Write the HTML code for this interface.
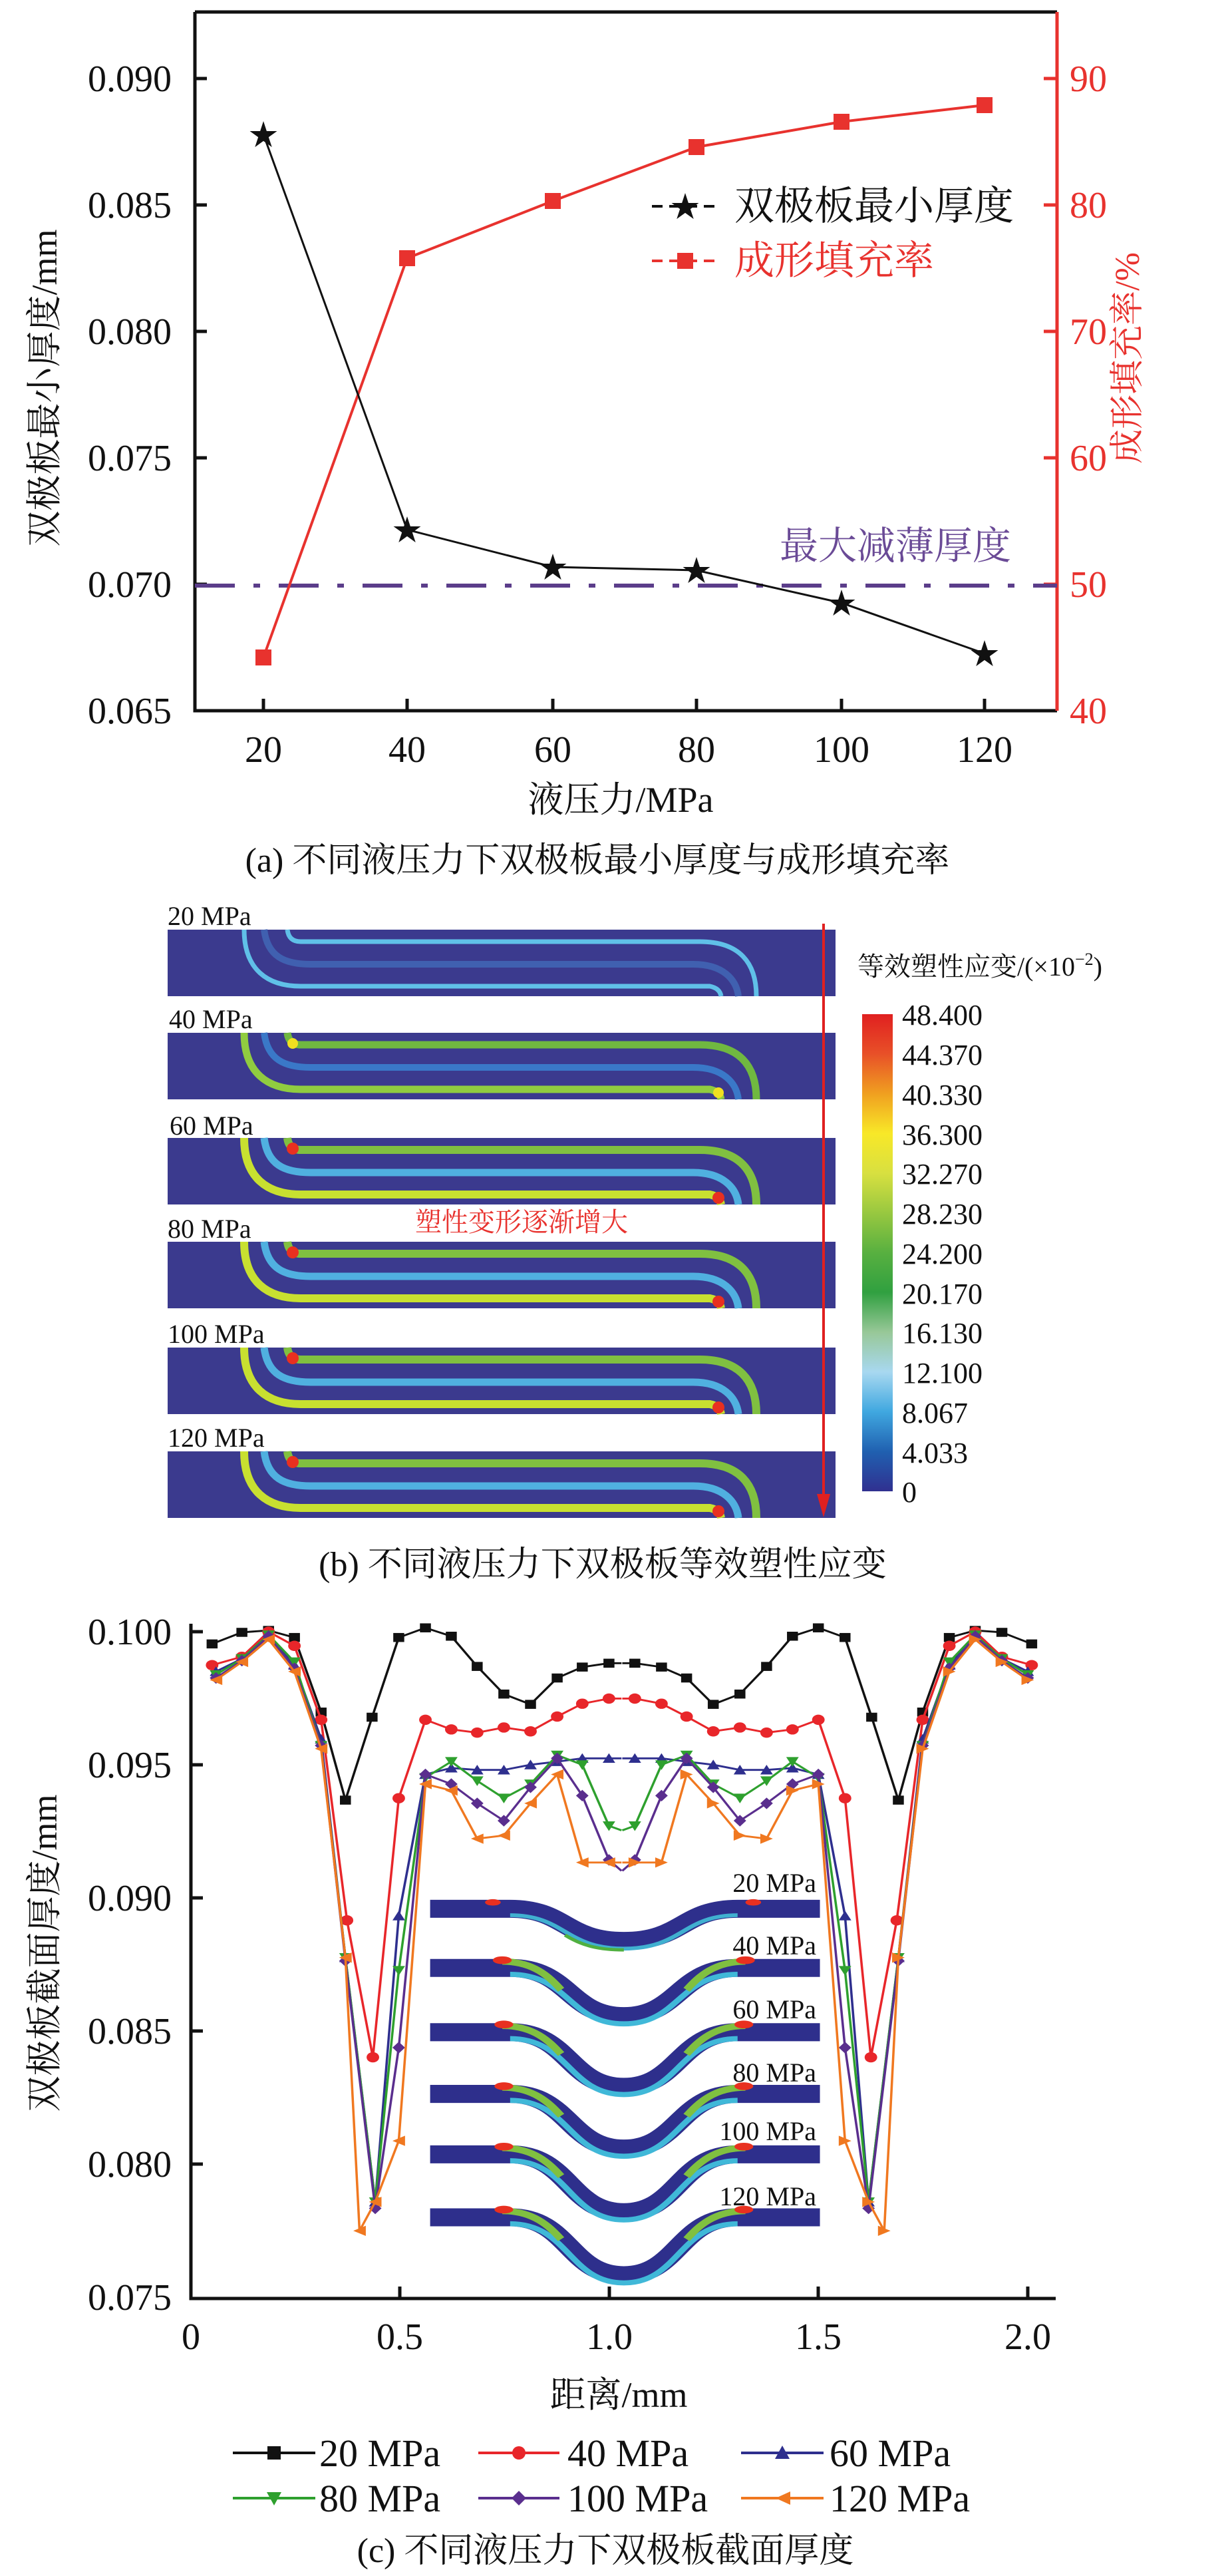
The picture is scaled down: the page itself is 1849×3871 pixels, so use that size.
<!DOCTYPE html>
<html><head><meta charset="utf-8"><style>
html,body{margin:0;padding:0;background:#fff}
svg{display:block}
text{font-family:"Liberation Serif","Noto Serif CJK SC",serif}
</style></head><body>
<svg width="1849" height="3871" viewBox="0 0 1849 3871" xmlns="http://www.w3.org/2000/svg">
<defs>
<marker id="mSq" markerUnits="userSpaceOnUse" markerWidth="20" markerHeight="20" refX="10" refY="10"><rect x="3" y="3" width="14" height="14" fill="#111"/></marker>
<marker id="mCi" markerUnits="userSpaceOnUse" markerWidth="20" markerHeight="20" refX="10" refY="10"><circle cx="10" cy="10" r="8" fill="#e8262a"/></marker>
<marker id="mTu" markerUnits="userSpaceOnUse" markerWidth="20" markerHeight="20" refX="10" refY="10"><path d="M10,2 L18,17 L2,17Z" fill="#2e2f8e"/></marker>
<marker id="mTd" markerUnits="userSpaceOnUse" markerWidth="20" markerHeight="20" refX="10" refY="10"><path d="M2,3 L18,3 L10,18Z" fill="#2ea02e"/></marker>
<marker id="mDi" markerUnits="userSpaceOnUse" markerWidth="20" markerHeight="20" refX="10" refY="10"><path d="M10,1 L18,10 L10,19 L2,10Z" fill="#5a2e8e"/></marker>
<marker id="mLt" markerUnits="userSpaceOnUse" markerWidth="20" markerHeight="20" refX="10" refY="10"><path d="M2,10 L18,2 L18,18Z" fill="#f07820"/></marker>
<linearGradient id="cb" x1="0" y1="0" x2="0" y2="1">
<stop offset="0" stop-color="#e02020"/><stop offset="0.083" stop-color="#e85028"/>
<stop offset="0.167" stop-color="#f0a020"/><stop offset="0.25" stop-color="#f8e828"/>
<stop offset="0.333" stop-color="#d8e040"/><stop offset="0.417" stop-color="#98c840"/>
<stop offset="0.5" stop-color="#58b040"/><stop offset="0.583" stop-color="#30a040"/>
<stop offset="0.667" stop-color="#98c898"/><stop offset="0.75" stop-color="#a8d8f0"/>
<stop offset="0.833" stop-color="#40a8e0"/><stop offset="0.917" stop-color="#2060b0"/>
<stop offset="1" stop-color="#303090"/></linearGradient>
</defs>

<!-- ===== Panel (a) ===== -->
<g stroke="#111" stroke-width="5" fill="none">
<path d="M293,18 L1589,18 M293,18 L293,1068 L1589,1068"/>
<path d="M293,118 h18 M293,308 h18 M293,498 h18 M293,688 h18 M293,878 h18"/>
<path d="M396,1068 v-18 M612,1068 v-18 M831,1068 v-18 M1047,1068 v-18 M1265,1068 v-18 M1480,1068 v-18"/>
</g>
<g stroke="#e8322e" stroke-width="5" fill="none">
<path d="M1589,18 L1589,1068"/>
<path d="M1589,118 h-20 M1589,308 h-20 M1589,498 h-20 M1589,688 h-20 M1589,878 h-20"/>
</g>
<g font-size="56" fill="#111" text-anchor="end">
<text x="258" y="137">0.090</text><text x="258" y="327">0.085</text><text x="258" y="517">0.080</text>
<text x="258" y="707">0.075</text><text x="258" y="897">0.070</text><text x="258" y="1087">0.065</text>
</g>
<g font-size="56" fill="#e8322e">
<text x="1608" y="137">90</text><text x="1608" y="327">80</text><text x="1608" y="517">70</text>
<text x="1608" y="707">60</text><text x="1608" y="897">50</text><text x="1608" y="1087">40</text>
</g>
<g font-size="56" fill="#111" text-anchor="middle">
<text x="396" y="1145">20</text><text x="612" y="1145">40</text><text x="831" y="1145">60</text>
<text x="1047" y="1145">80</text><text x="1265" y="1145">100</text><text x="1480" y="1145">120</text>
</g>
<text x="933" y="1220" font-size="54" text-anchor="middle" fill="#111">液压力/MPa</text>
<text transform="translate(85,583) rotate(-90)" font-size="54" text-anchor="middle" fill="#111">双极板最小厚度/mm</text>
<text transform="translate(1712,538) rotate(-90)" font-size="52" text-anchor="middle" fill="#e8322e">成形填充率/%</text>
<path d="M293,880 L1589,880" stroke="#5b3d8a" stroke-width="6" stroke-dasharray="60,28,10,28"/>
<text x="1520" y="840" font-size="58" text-anchor="end" fill="#6a4a96">最大减薄厚度</text>
<polyline points="396,988 612,388 831,302 1047,221 1265,183 1480,158" fill="none" stroke="#e8322e" stroke-width="4"/>
<g fill="#e8322e"><rect x="384" y="976" width="24" height="24"/><rect x="600" y="376" width="24" height="24"/><rect x="819" y="290" width="24" height="24"/><rect x="1035" y="209" width="24" height="24"/><rect x="1253" y="171" width="24" height="24"/><rect x="1468" y="146" width="24" height="24"/></g>
<polyline points="396,202 612,796 831,852 1047,857 1265,906 1480,982" fill="none" stroke="#111" stroke-width="3"/>
<g fill="#111" font-size="44" text-anchor="middle" font-family="DejaVu Sans">
<text x="396" y="218">★</text><text x="612" y="812">★</text><text x="831" y="868">★</text><text x="1047" y="873">★</text><text x="1265" y="922">★</text><text x="1480" y="998">★</text>
</g>
<path d="M980,310 H1080" stroke="#111" stroke-width="4" stroke-dasharray="16,10"/>
<text x="1030" y="326" font-size="44" text-anchor="middle" fill="#111" font-family="DejaVu Sans">★</text>
<path d="M980,392 H1080" stroke="#e8322e" stroke-width="4" stroke-dasharray="16,10"/>
<rect x="1018" y="380" width="24" height="24" fill="#e8322e"/>
<text x="1104" y="330" font-size="60" fill="#111">双极板最小厚度</text>
<text x="1104" y="412" font-size="60" fill="#e8322e">成形填充率</text>
<text x="898" y="1310" font-size="52" text-anchor="middle" fill="#111">(a) 不同液压力下双极板最小厚度与成形填充率</text>

<!-- ===== Panel (b) ===== -->
<g font-size="40" fill="#111">
<text x="252" y="1390">20 MPa</text><text x="254" y="1545">40 MPa</text><text x="255" y="1705">60 MPa</text>
<text x="252" y="1860">80 MPa</text><text x="252" y="2018">100 MPa</text><text x="252" y="2174">120 MPa</text>
</g>
<g transform="translate(252,1397)">
<rect width="1004" height="100" fill="#3b3a8e"/>
<path d="M145,0 C150,40 175,52 215,52 L790,52 C835,52 855,75 858,100" stroke="#4060b0" stroke-width="10" fill="none"/>
<path d="M115,0 C115,60 150,85 200,85 L815,85 Q830,88 832,100" stroke="#60c0e8" stroke-width="7" fill="none"/>
<path d="M180,0 Q182,18 200,18 L800,18 C860,18 885,50 885,100" stroke="#60c0e8" stroke-width="7" fill="none"/>
</g>
<g transform="translate(252,1552)">
<rect width="1004" height="100" fill="#3b3a8e"/>
<path d="M145,0 C150,40 175,52 215,52 L790,52 C835,52 855,75 858,100" stroke="#3a78c8" stroke-width="10" fill="none"/>
<path d="M115,0 C115,60 150,85 200,85 L815,85 Q830,88 832,100" stroke="#90cc40" stroke-width="11" fill="none"/>
<path d="M180,0 Q182,18 200,18 L800,18 C860,18 885,50 885,100" stroke="#70b840" stroke-width="11" fill="none"/>
<circle cx="188" cy="16" r="8" fill="#f0e020"/><circle cx="828" cy="90" r="8" fill="#f0e020"/>
</g>
<g id="plx" transform="translate(252,1710)">
<rect width="1004" height="100" fill="#3b3a8e"/>
<path d="M145,0 C150,40 175,52 215,52 L790,52 C835,52 855,75 858,100" stroke="#50b0e0" stroke-width="11" fill="none"/>
<path d="M115,0 C115,60 150,85 200,85 L815,85 Q830,88 832,100" stroke="#c8e030" stroke-width="12" fill="none"/>
<path d="M180,0 Q182,18 200,18 L800,18 C860,18 885,50 885,100" stroke="#80c040" stroke-width="12" fill="none"/>
<circle cx="188" cy="16" r="9" fill="#e83020"/><circle cx="828" cy="90" r="9" fill="#e83020"/>
</g>
<use href="#plx" transform="translate(0,156)"/>
<use href="#plx" transform="translate(0,315)"/>
<use href="#plx" transform="translate(0,471)"/>
<text x="784" y="1850" font-size="40" text-anchor="middle" fill="#e8322e">塑性变形逐渐增大</text>
<path d="M1238,1388 V2255" stroke="#e02020" stroke-width="4"/>
<path d="M1228,2245 L1238,2280 L1248,2245Z" fill="#e02020"/>
<rect x="1296" y="1524" width="46" height="717" fill="url(#cb)"/>
<text x="1289" y="1466" font-size="40" fill="#111">等效塑性应变/(×10<tspan font-size="26" dy="-16">−2</tspan><tspan dy="16">)</tspan></text>
<g font-size="44" fill="#111">
<text x="1356" y="1540">48.400</text><text x="1356" y="1600">44.370</text><text x="1356" y="1660">40.330</text>
<text x="1356" y="1720">36.300</text><text x="1356" y="1779">32.270</text><text x="1356" y="1839">28.230</text>
<text x="1356" y="1899">24.200</text><text x="1356" y="1959">20.170</text><text x="1356" y="2018">16.130</text>
<text x="1356" y="2078">12.100</text><text x="1356" y="2138">8.067</text><text x="1356" y="2198">4.033</text>
<text x="1356" y="2257">0</text>
</g>
<text x="906" y="2368" font-size="52" text-anchor="middle" fill="#111">(b) 不同液压力下双极板等效塑性应变</text>

<!-- ===== Panel (c) ===== -->
<g stroke="#111" stroke-width="5" fill="none">
<path d="M287,2440 L287,3454 L1587,3454"/>
<path d="M287,2452 h18 M287,2652 h18 M287,2852 h18 M287,3052 h18 M287,3252 h18"/>
<path d="M601,3454 v-18 M916,3454 v-18 M1230,3454 v-18 M1545,3454 v-18"/>
</g>
<g font-size="56" fill="#111" text-anchor="end">
<text x="258" y="2471">0.100</text><text x="258" y="2671">0.095</text><text x="258" y="2871">0.090</text>
<text x="258" y="3071">0.085</text><text x="258" y="3271">0.080</text><text x="258" y="3471">0.075</text>
</g>
<g font-size="56" fill="#111" text-anchor="middle">
<text x="287" y="3530">0</text><text x="601" y="3530">0.5</text><text x="916" y="3530">1.0</text>
<text x="1230" y="3530">1.5</text><text x="1545" y="3530">2.0</text>
</g>
<text x="930" y="3617" font-size="54" text-anchor="middle" fill="#111">距离/mm</text>
<text transform="translate(85,2935) rotate(-90)" font-size="54" text-anchor="middle" fill="#111">双极板截面厚度/mm</text>

<g transform="matrix(1.179 0 0 0.966 0.5 2352.5)">
<g fill="none">
<path d="M548,534 L650,534 C720,534 720,584 795,584 C870,584 870,534 940,534 L1045,534" stroke="#2e2f8c" stroke-width="28"/>
<path d="M650,544 C720,544 720,596 795,596 C870,596 870,544 940,544" stroke="#40b0d0" stroke-width="6"/>
<path d="M795,598 C760,598 740,590 720,575" stroke="#50b040" stroke-width="5"/>
<path d="M548,626 L650,626 C725,626 725,701 795,701 C865,701 865,626 940,626 L1045,626" stroke="#2e2f8c" stroke-width="28"/>
<path d="M650,636 C725,636 725,713 795,713 C865,713 865,636 940,636" stroke="#40b8d8" stroke-width="8"/>
<path d="M640,616 C680,616 700,640 715,660" stroke="#80c040" stroke-width="10"/><path d="M950,616 C910,616 890,640 875,660" stroke="#80c040" stroke-width="10"/>
<path d="M548,726 L650,726 C725,726 725,811 795,811 C865,811 865,726 940,726 L1045,726" stroke="#2e2f8c" stroke-width="28"/>
<path d="M650,736 C725,736 725,823 795,823 C865,823 865,736 940,736" stroke="#40b8d8" stroke-width="8"/>
<path d="M640,716 C680,716 700,740 715,760" stroke="#80c040" stroke-width="10"/><path d="M950,716 C910,716 890,740 875,760" stroke="#80c040" stroke-width="10"/>
<path d="M548,822 L650,822 C725,822 725,907 795,907 C865,907 865,822 940,822 L1045,822" stroke="#2e2f8c" stroke-width="28"/>
<path d="M650,832 C725,832 725,919 795,919 C865,919 865,832 940,832" stroke="#40b8d8" stroke-width="8"/>
<path d="M640,812 C680,812 700,836 715,856" stroke="#80c040" stroke-width="10"/><path d="M950,812 C910,812 890,836 875,856" stroke="#80c040" stroke-width="10"/>
<path d="M548,916 L650,916 C725,916 725,1006 795,1006 C865,1006 865,916 940,916 L1045,916" stroke="#2e2f8c" stroke-width="28"/>
<path d="M650,926 C725,926 725,1018 795,1018 C865,1018 865,926 940,926" stroke="#40b8d8" stroke-width="8"/>
<path d="M640,906 C680,906 700,930 715,950" stroke="#80c040" stroke-width="10"/><path d="M950,906 C910,906 890,930 875,950" stroke="#80c040" stroke-width="10"/>
<path d="M548,1014 L650,1014 C725,1014 725,1104 795,1104 C865,1104 865,1014 940,1014 L1045,1014" stroke="#2e2f8c" stroke-width="28"/>
<path d="M650,1024 C725,1024 725,1116 795,1116 C865,1116 865,1024 940,1024" stroke="#40b8d8" stroke-width="8"/>
<path d="M640,1004 C680,1004 700,1028 715,1048" stroke="#80c040" stroke-width="10"/><path d="M950,1004 C910,1004 890,1028 875,1048" stroke="#80c040" stroke-width="10"/>
</g>
<g fill="#e83020"><ellipse cx="628" cy="524" rx="10" ry="5"/><ellipse cx="960" cy="524" rx="10" ry="5"/>
<ellipse cx="640" cy="614" rx="12" ry="6"/><ellipse cx="950" cy="614" rx="12" ry="6"/>
<ellipse cx="642" cy="714" rx="12" ry="6"/><ellipse cx="948" cy="714" rx="12" ry="6"/>
<ellipse cx="642" cy="810" rx="12" ry="6"/><ellipse cx="948" cy="810" rx="12" ry="6"/>
<ellipse cx="642" cy="904" rx="12" ry="6"/><ellipse cx="948" cy="904" rx="12" ry="6"/>
<ellipse cx="642" cy="1002" rx="12" ry="6"/><ellipse cx="948" cy="1002" rx="12" ry="6"/></g>

<g fill="none" stroke-width="3" stroke-linejoin="round">
<path id="cb0" d="M270,122 L308,104 L342,101 L375,112 L409,228 L440,365 L474,236 L508,112 L542,97 L575,110 L608,157 L642,200 L676,216 L710,175 L742,158 L776,152 L792,152" stroke="#111" marker-start="url(#mSq)" marker-mid="url(#mSq)"/>
<path id="cr0" d="M270,155 L308,142 L342,103 L375,125 L409,240 L442,552 L475,765 L508,362 L542,240 L575,255 L608,260 L642,252 L676,258 L710,235 L742,215 L776,207 L792,207" stroke="#e8262a" marker-start="url(#mCi)" marker-mid="url(#mCi)"/>
<path id="cbl" d="M275,165 L308,145 L342,108 L375,155 L409,270 L440,610 L478,990 L508,545 L542,325 L575,315 L608,318 L642,318 L676,310 L710,305 L742,300 L776,300 L792,300" stroke="#2e2f8e" marker-start="url(#mTu)" marker-mid="url(#mTu)"/>
<path id="cgr" d="M275,170 L308,145 L342,108 L375,150 L409,280 L440,610 L478,990 L508,630 L542,330 L575,305 L608,335 L642,362 L676,340 L710,295 L742,310 L776,405 L792,412" stroke="#2ea02e" marker-start="url(#mTd)" marker-mid="url(#mTd)"/>
<path id="cpu" d="M275,175 L308,148 L342,110 L375,160 L409,280 L440,615 L478,1000 L508,750 L542,325 L575,340 L608,370 L642,397 L676,345 L710,300 L742,358 L776,458 L792,475" stroke="#5a2e8e" marker-start="url(#mDi)" marker-mid="url(#mDi)"/>
<path id="cor" d="M275,178 L308,150 L342,115 L375,165 L409,285 L440,610 L458,1035 L478,990 L508,895 L542,340 L575,350 L608,425 L642,420 L676,370 L710,325 L742,462 L776,462 L792,462" stroke="#f07820" marker-start="url(#mLt)" marker-mid="url(#mLt)"/>
</g>
<g transform="translate(1585,0) scale(-1,1)" fill="none" stroke-width="3" stroke-linejoin="round">
<use href="#cb0"/><use href="#cr0"/><use href="#cbl"/><use href="#cgr"/><use href="#cpu"/><use href="#cor"/>
</g>
</g>
<g font-size="40" fill="#111" text-anchor="end">
<text x="1227" y="2843">20 MPa</text><text x="1227" y="2937">40 MPa</text><text x="1227" y="3033">60 MPa</text>
<text x="1227" y="3128">80 MPa</text><text x="1227" y="3216">100 MPa</text><text x="1227" y="3314">120 MPa</text>
</g>

<g stroke-width="4">
<path d="M350,3686 H474" stroke="#111"/><rect x="402" y="3676" width="20" height="20" fill="#111"/>
<path d="M719,3686 H841" stroke="#e8262a"/><circle cx="780" cy="3686" r="10" fill="#e8262a"/>
<path d="M1114,3686 H1238" stroke="#2e2f8e"/><path d="M1176,3675 L1187,3695 L1165,3695Z" fill="#2e2f8e"/>
<path d="M350,3754 H474" stroke="#2ea02e"/><path d="M401,3745 L423,3745 L412,3765Z" fill="#2ea02e"/>
<path d="M719,3754 H841" stroke="#5a2e8e"/><path d="M780,3743 L791,3754 L780,3765 L769,3754Z" fill="#5a2e8e"/>
<path d="M1114,3754 H1238" stroke="#f07820"/><path d="M1166,3754 L1188,3744 L1188,3764Z" fill="#f07820"/>
</g>
<g font-size="58" fill="#111">
<text x="480" y="3706">20 MPa</text><text x="853" y="3706">40 MPa</text><text x="1247" y="3706">60 MPa</text>
<text x="480" y="3774">80 MPa</text><text x="853" y="3774">100 MPa</text><text x="1247" y="3774">120 MPa</text>
</g>
<text x="910" y="3850" font-size="52" text-anchor="middle" fill="#111">(c) 不同液压力下双极板截面厚度</text>
</svg>
</body></html>
